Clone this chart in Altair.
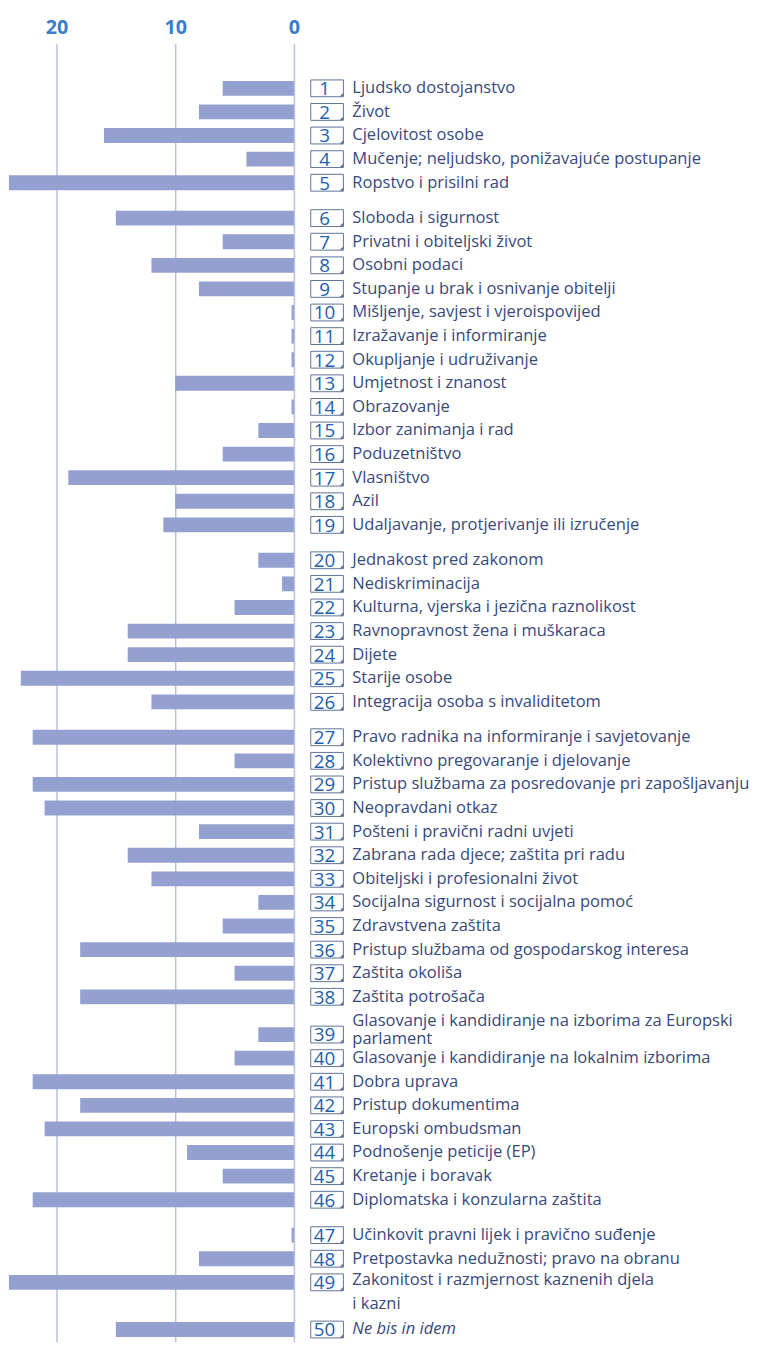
import altair as alt
import pandas as pd

# ---- data -------------------------------------------------------------
group_sizes = [5, 14, 7, 12, 8, 4]
numbers = list(range(1, 51))
values = [6, 8, 16, 4, 24,
          15, 6, 12, 8, 0.2, 0.2, 0.2, 10, 0.2, 3, 6, 19, 10, 11,
          3, 1, 5, 14, 14, 23, 12,
          22, 5, 22, 21, 8, 14, 12, 3, 6, 18, 5, 18,
          3, 5, 22, 18, 21, 9, 6, 22,
          0.2, 8, 24, 15]
labels = [
    ["Ljudsko dostojanstvo"],
    ["Život"],
    ["Cjelovitost osobe"],
    ["Mučenje; neljudsko, ponižavajuće postupanje"],
    ["Ropstvo i prisilni rad"],
    ["Sloboda i sigurnost"],
    ["Privatni i obiteljski život"],
    ["Osobni podaci"],
    ["Stupanje u brak i osnivanje obitelji"],
    ["Mišljenje, savjest i vjeroispovijed"],
    ["Izražavanje i informiranje"],
    ["Okupljanje i udruživanje"],
    ["Umjetnost i znanost"],
    ["Obrazovanje"],
    ["Izbor zanimanja i rad"],
    ["Poduzetništvo"],
    ["Vlasništvo"],
    ["Azil"],
    ["Udaljavanje, protjerivanje ili izručenje"],
    ["Jednakost pred zakonom"],
    ["Nediskriminacija"],
    ["Kulturna, vjerska i jezična raznolikost"],
    ["Ravnopravnost žena i muškaraca"],
    ["Dijete"],
    ["Starije osobe"],
    ["Integracija osoba s invaliditetom"],
    ["Pravo radnika na informiranje i savjetovanje"],
    ["Kolektivno pregovaranje i djelovanje"],
    ["Pristup službama za posredovanje pri zapošljavanju"],
    ["Neopravdani otkaz"],
    ["Pošteni i pravični radni uvjeti"],
    ["Zabrana rada djece; zaštita pri radu"],
    ["Obiteljski i profesionalni život"],
    ["Socijalna sigurnost i socijalna pomoć"],
    ["Zdravstvena zaštita"],
    ["Pristup službama od gospodarskog interesa"],
    ["Zaštita okoliša"],
    ["Zaštita potrošača"],
    ["Glasovanje i kandidiranje na izborima za Europski", "parlament"],
    ["Glasovanje i kandidiranje na lokalnim izborima"],
    ["Dobra uprava"],
    ["Pristup dokumentima"],
    ["Europski ombudsman"],
    ["Podnošenje peticije (EP)"],
    ["Kretanje i boravak"],
    ["Diplomatska i konzularna zaštita"],
    ["Učinkovit pravni lijek i pravično suđenje"],
    ["Pretpostavka nedužnosti; pravo na obranu"],
    ["Zakonitost i razmjernost kaznenih djela", "i kazni"],
    ["Ne bis in idem"],
]
italic_items = [50]

# ---- layout helpers (row slots) -------------------------------------
GROUP_GAP = 0.5
extra_before = {39: 0.1, 50: 1.0}
line_offsets = {39: [-0.56, 0.2], 49: [-0.1, 0.9]}

rows, lines = [], []
idx, extra = 0, 0.0
for g, n in enumerate(group_sizes):
    for _ in range(n):
        num = numbers[idx]
        extra += extra_before.get(num, 0.0)
        slot = idx + GROUP_GAP * g + extra
        rows.append({"num": num, "numtxt": str(num), "value": values[idx], "slot": slot})
        offs = line_offsets.get(num, [0.0] * len(labels[idx]))
        for ln, off in zip(labels[idx], offs):
            lines.append({"num": num, "text": ln, "slot": slot + off,
                          "italic": 1 if num in italic_items else 0})
        idx += 1

df = pd.DataFrame(rows)
dl = pd.DataFrame(lines)

PITCH = 23.85
H = 1312
FIRST = 45
top_slot = -FIRST / PITCH
bot_slot = (H - FIRST) / PITCH

FONT = "Open Sans"
BAR = "#94a0d0"
GRID = "#b4c0e0"
AXIS_LBL = "#3d7cc9"
BOX = "#5d7299"
NUM = "#1b5fae"
TXT = "#38497b"
TXT_SIZE = 16.7

xscale = alt.Scale(domain=[0, 24.08], range=[289, 0], nice=False, zero=False)
yscale = alt.Scale(domain=[top_slot, bot_slot], reverse=True, nice=False, zero=False)

base = alt.Chart(df)
y = alt.Y("slot:Q", scale=yscale, axis=None)

bars = base.mark_rect(color=BAR, yOffset=-7.5, y2Offset=7.5).encode(
    x=alt.X("value:Q", scale=xscale,
            axis=alt.Axis(orient="top", values=[0, 10, 20], grid=True, gridColor=GRID,
                          gridWidth=1.5, ticks=False, domain=False, labelFontSize=20,
                          labelFont=FONT, labelFontWeight="bold", labelColor=AXIS_LBL,
                          labelPadding=6, labelFlush=False, labelOverlap=False,
                          title=None, format="d")),
    x2=alt.datum(0),
    y=y,
    y2=alt.Y2("slot:Q"),
)

boxes = base.mark_rect(fill="white", stroke=BOX, strokeWidth=1,
                       xOffset=17, x2Offset=50, yOffset=-8.5, y2Offset=8.5).encode(
    x=alt.X(datum=0),
    x2=alt.datum(0),
    y=y,
    y2=alt.Y2("slot:Q"),
)

corner = base.mark_point(shape="M1,-1L1,1L-1,1Z", filled=True, color=BOX, size=12,
                         opacity=1, xOffset=48, yOffset=6.5).encode(
    x=alt.X(datum=0),
    y=y,
)

nums = base.mark_text(font=FONT, fontSize=19, color=NUM, dx=31, baseline="middle",
                      align="center", dy=1).encode(
    x=alt.X(datum=0),
    y=y,
    text="numtxt:N",
)

texts_normal = alt.Chart(dl).transform_filter("datum.italic == 0").mark_text(
    font=FONT, fontSize=TXT_SIZE, color=TXT, dx=59, align="left", baseline="middle").encode(
    x=alt.X(datum=0),
    y=alt.Y("slot:Q", scale=yscale, axis=None),
    text="text:N",
)
texts_italic = alt.Chart(dl).transform_filter("datum.italic == 1").mark_text(
    font=FONT, fontSize=TXT_SIZE, color=TXT, dx=59, align="left", baseline="middle",
    fontStyle="italic").encode(
    x=alt.X(datum=0),
    y=alt.Y("slot:Q", scale=yscale, axis=None),
    text="text:N",
)

chart = alt.layer(bars, boxes, corner, nums, texts_normal, texts_italic).properties(
    width=753, height=H,
    padding={"left": 0, "top": 29, "right": 0, "bottom": 0},
    autosize=alt.AutoSizeParams(type="none"),
).configure_view(stroke=None)

chart.save("out.html", embed_options={"renderer": "svg", "actions": False})
